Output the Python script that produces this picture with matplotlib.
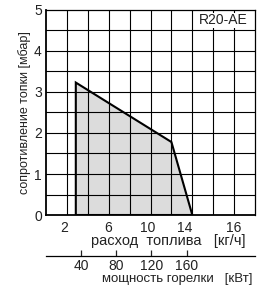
import numpy as np
import matplotlib
matplotlib.use("Agg")
import matplotlib.pyplot as plt

plt.rcParams['font.family'] = ['Liberation Sans', 'DejaVu Sans']

# working field of the burner (fuel flow kg/h, furnace resistance mbar)
flow = [2.85, 2.85, 12.0, 14.0]
pressure = [0.0, 3.23, 1.78, 0.0]

x_tick_pos = [1.7, 5.9, 9.7, 13.3, 18.0]
x_tick_labels = ["2", "6", "10", "14", "16"]
y_ticks = [0, 1, 2, 3, 4, 5]
kw_ticks = [40, 80, 120, 160]
kw_per_kg = 11.9

fig = plt.figure(figsize=(2.63, 2.93), dpi=100)
ax = fig.add_axes([0.175, 0.2662, 0.7946, 0.6997])

ax.fill(flow, pressure, facecolor="#dcdcdc", edgecolor="none", zorder=1)
ax.fill(flow, pressure, facecolor="none", edgecolor="black", lw=1.5,
        joinstyle="miter", zorder=4)

ax.set_xlim(0, 20)
ax.set_ylim(0, 5)

ax.set_xticks(x_tick_pos)
ax.set_xticklabels(x_tick_labels)
ax.set_yticks(y_ticks)
ax.tick_params(which="both", length=0, labelsize=10, colors="#222222")
ax.tick_params(axis="x", pad=4)
ax.tick_params(axis="y", pad=3)

for gx in np.arange(2, 20, 2):
    ax.axvline(gx, color="black", lw=0.8, zorder=2)
for gy in np.arange(0.5, 5, 0.5):
    ax.axhline(gy, color="black", lw=0.8, zorder=2)

for s in ax.spines.values():
    s.set_linewidth(0.9)
    s.set_zorder(5)
ax.spines["left"].set_linewidth(1.3)
ax.spines["bottom"].set_linewidth(1.3)

ax.text(0.965, 0.95, "R20-AE", transform=ax.transAxes, ha="right",
        va="center", fontsize=10, color="#222222", zorder=6,
        bbox=dict(facecolor="white", edgecolor="none", pad=0.5))

ax.set_ylabel("сопротивление топки [мбар]", fontsize=9, color="#222222",
              labelpad=2)
fig.text(0.64, 0.178, "расход  топлива   [кг/ч]", ha="center", va="center",
         fontsize=10.5, color="#222222")

sec = ax.secondary_xaxis(-0.2, functions=(lambda x: x * kw_per_kg,
                                           lambda x: x / kw_per_kg))
sec.set_xticks(kw_ticks)
sec.tick_params(direction="in", length=4, width=0.9, labelsize=10,
                colors="#222222", pad=2)
sec.spines["bottom"].set_linewidth(0.9)
fig.text(0.675, 0.048, "мощность горелки   [кВт]", ha="center", va="center",
         fontsize=9.5, color="#222222")

fig.savefig("out.png", dpi=100)
